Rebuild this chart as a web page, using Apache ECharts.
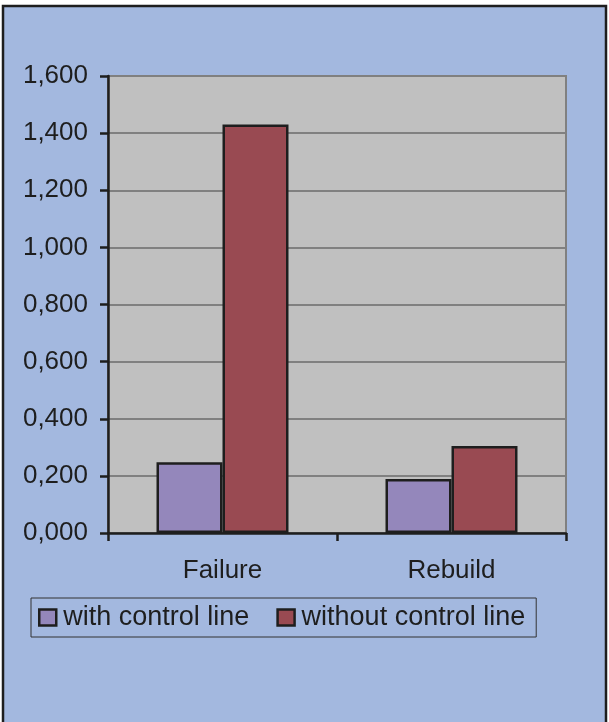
<!DOCTYPE html>
<html>
<head>
<meta charset="utf-8">
<script src="https://cdn.jsdelivr.net/npm/echarts@6/dist/echarts.min.js"></script>
<style>
html,body{margin:0;padding:0;background:#ffffff;}
#chart{width:609px;height:722px;}
</style>
</head>
<body>
<div id="chart"></div>
<script>
const categories = ['Failure', 'Rebuild'];
const withControlLine = [0.248, 0.189];
const withoutControlLine = [1.43, 0.305];
const seriesNames = ['with control line', 'without control line'];

const FONT = 'Liberation Sans, Arial, Helvetica, sans-serif';
const chart = echarts.init(document.getElementById('chart'), null, {renderer: 'canvas'});
const option = {
  backgroundColor: '#ffffff',
  animation: false,
  graphic: [{
    type: 'rect', z: -100,
    shape: {x: 3, y: 6, width: 603, height: 730},
    style: {fill: '#A3B8DF', stroke: '#1e1e1e', lineWidth: 2.5}
  }],
  textStyle: {fontFamily: FONT},
  grid: {
    left: 108, right: 43, top: 76, bottom: 189,
    show: true, backgroundColor: '#C0C0C0', borderColor: '#808080', borderWidth: 2
  },
  legend: {
    left: 31, top: 598,
    orient: 'horizontal',
    data: seriesNames,
    icon: 'rect',
    itemWidth: 17, itemHeight: 16, itemGap: 27,
    padding: [6, 11, 6, 7],
    borderColor: '#333333', borderWidth: 1,
    backgroundColor: 'transparent',
    textStyle: {fontSize: 27, color: '#1e1e1e', fontFamily: FONT, padding: [2, 0, 0, 2]},
    itemStyle: {borderColor: '#1e1e1e', borderWidth: 2.5}
  },
  xAxis: {
    type: 'category',
    data: categories,
    axisLine: {lineStyle: {color: '#1e1e1e', width: 2.5}},
    axisTick: {show: true, length: 8, lineStyle: {color: '#1e1e1e', width: 2.5}},
    axisLabel: {fontSize: 26, color: '#1e1e1e', margin: 25, fontFamily: FONT},
    splitLine: {show: false}
  },
  yAxis: {
    type: 'value',
    min: 0, max: 1.6, interval: 0.2,
    axisLine: {show: true, lineStyle: {color: '#1e1e1e', width: 2.5}},
    axisTick: {show: true, length: 8, lineStyle: {color: '#1e1e1e', width: 2.5}},
    axisLabel: {
      fontSize: 26, color: '#1e1e1e', margin: 20, fontFamily: FONT,
      formatter: v => v.toFixed(3).replace('.', ',')
    },
    splitLine: {show: true, lineStyle: {color: '#808080', width: 2}}
  },
  series: [
    {
      name: seriesNames[0], type: 'bar', data: withControlLine,
      barWidth: 66, barGap: '0%',
      itemStyle: {color: '#9487BB', borderColor: '#1e1e1e', borderWidth: 2.5}
    },
    {
      name: seriesNames[1], type: 'bar', data: withoutControlLine,
      barWidth: 66, barGap: '0%',
      itemStyle: {color: '#994A52', borderColor: '#1e1e1e', borderWidth: 2.5}
    }
  ]
};
chart.setOption(option);
</script>
</body>
</html>
